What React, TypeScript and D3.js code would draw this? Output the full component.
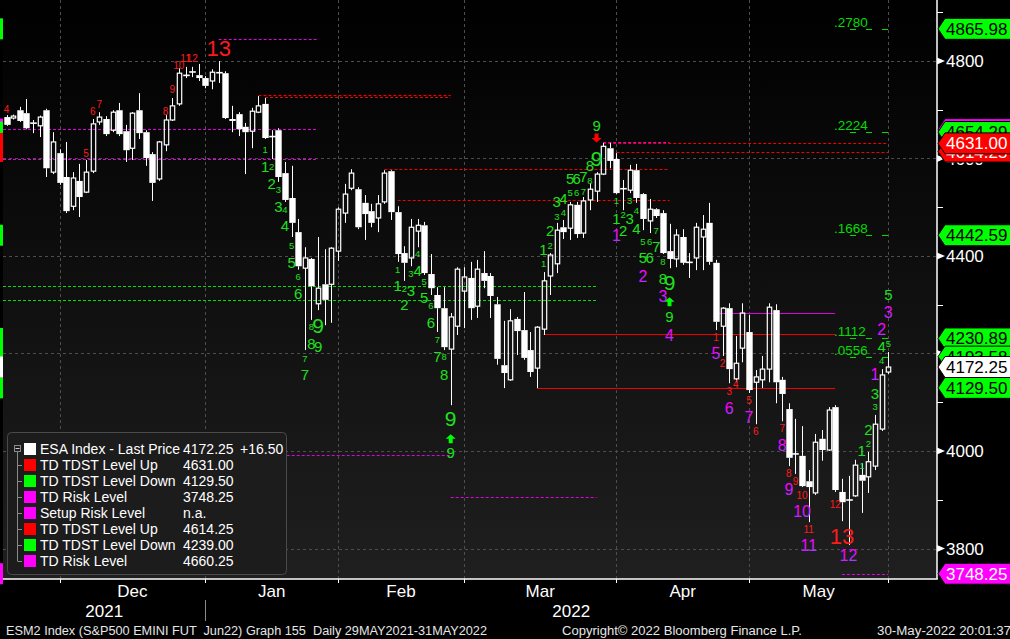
import React from 'react';
import * as d3 from 'd3';

const W = 1010;
const H = 639;

// OHLC (daily, ESM2)
const opens = [4685,4683,4699,4693,4672,4667,4699,4572,4611,4562,4502,4554,4531,4574,4675,4681,4658,4699,4656,4621,4699,4654,4609,4558,4628,4679,4712,4770,4777,4771,4765,4759,4775,4775,4681,4691,4665,4656,4695,4712,4646,4658,4570,4519,4449,4375,4394,4302,4342,4342,4410,4488,4539,4537,4509,4492,4478,4511,4574,4490,4406,4396,4451,4463,4363,4320,4293,4209,4256,4328,4355,4297,4365,4359,4301,4176,4146,4271,4248,4207,4170,4250,4359,4384,4459,4457,4505,4447,4515,4533,4568,4621,4599,4539,4535,4576,4527,4472,4496,4488,4410,4394,4439,4388,4396,4439,4468,4386,4256,4293,4148,4211,4244,4141,4146,4168,4289,4146,4086,3995,3990,3938,3914,4025,4002,4090,3916,3900,3908,3951,3947,3969,4045,4162];
const highs = [4689,4690,4706,4722,4679,4688,4702,4654,4619,4634,4572,4589,4597,4681,4695,4687,4699,4714,4669,4695,4734,4658,4613,4636,4689,4724,4785,4788,4788,4794,4769,4783,4800,4779,4708,4695,4673,4704,4728,4724,4658,4662,4593,4585,4476,4418,4396,4439,4414,4418,4500,4548,4578,4541,4525,4507,4525,4576,4576,4502,4420,4476,4476,4470,4404,4336,4336,4283,4377,4377,4388,4392,4410,4365,4316,4267,4291,4275,4326,4244,4256,4367,4406,4468,4474,4511,4511,4521,4550,4572,4632,4632,4611,4556,4587,4589,4529,4517,4498,4494,4466,4455,4455,4406,4468,4484,4509,4392,4295,4303,4236,4303,4279,4166,4195,4303,4301,4152,4098,4066,4051,3961,4035,4043,4090,4094,3943,3949,3982,3975,3998,4074,4168,4203];
const lows = [4667,4680,4675,4660,4652,4644,4562,4568,4546,4488,4494,4480,4529,4570,4669,4646,4654,4646,4593,4597,4640,4585,4513,4554,4615,4677,4708,4765,4767,4759,4744,4742,4755,4681,4654,4646,4568,4621,4693,4640,4599,4552,4511,4439,4372,4207,4269,4289,4258,4263,4390,4468,4535,4455,4433,4459,4449,4507,4474,4388,4349,4379,4418,4361,4320,4244,4207,4094,4238,4252,4269,4273,4334,4273,4177,4129,4144,4197,4187,4152,4129,4238,4320,4365,4435,4433,4437,4437,4494,4511,4566,4580,4527,4494,4529,4509,4453,4447,4478,4404,4375,4377,4382,4355,4371,4371,4382,4248,4195,4139,4141,4182,4119,4055,4129,4141,4098,4061,3969,3953,3926,3854,3910,3980,4000,3916,3856,3807,3906,3873,3914,3961,4041,4158];
const closes = [4669,4687,4677,4662,4673,4685,4580,4634,4550,4492,4560,4521,4572,4671,4685,4650,4695,4650,4617,4693,4652,4601,4550,4634,4679,4708,4775,4771,4778,4765,4749,4777,4777,4683,4677,4660,4654,4697,4708,4642,4644,4562,4515,4468,4379,4396,4338,4334,4310,4416,4496,4527,4570,4459,4486,4468,4507,4570,4490,4404,4386,4459,4463,4365,4334,4293,4213,4275,4373,4357,4293,4373,4349,4318,4189,4160,4267,4246,4191,4162,4254,4349,4402,4453,4449,4505,4445,4513,4537,4568,4625,4595,4529,4537,4576,4519,4476,4496,4482,4406,4394,4443,4386,4386,4459,4455,4388,4265,4293,4168,4180,4283,4125,4152,4168,4295,4141,4117,3986,3993,3928,3926,4018,4002,4084,3920,3895,3899,3971,3939,3978,4055,4156,4172.25];

// calendar
const monthStarts = [8, 30, 50, 69, 92, 112, 133];
const monthNames = ['Dec', 'Jan', 'Feb', 'Mar', 'Apr', 'May'];
const yearNames = ['2021', '2022'];
const yearBreak = 30;

// price axis
const majorTicks = [3800, 4000, 4200, 4400, 4600, 4800];
const minorTicks = [3900, 4100, 4300, 4500, 4700, 4900];

// TD level segments: price, from index, to index, kind, solid?
const levelPrices = [4845, 4730, 4726, 4660.25, 4599, 4578, 4515, 4338, 4310, 3992, 3905.5, 4631, 4614.25, 4634, 4283, 4239, 4129.5, 3748.25];
const levelFrom = [32, 38, 39, -1, -1, 57, 59, -1, -1, 40, 67, 90, 92, 90, 107, 81, 80, 126];
const levelTo = [47, 67, 67, 47, 47, 100, 100, 89, 89, 67, 89, 133, 133, 100, 125, 125, 125, 133];
const levelKinds = ['risk', 'up', 'up', 'risk', 'risk', 'up', 'up', 'down', 'down', 'risk', 'risk', 'up', 'up', 'risk', 'risk', 'up', 'up', 'risk'];
const levelSolid = [false, false, false, false, false, false, false, false, false, false, false, false, false, false, true, true, true, false];

// projection levels
const fibNames = ['.2780', '.2224', '.1668', '.1112', '.0556'];
const fibValues = [4865.98, 4654.29, 4442.59, 4230.89, 4193.58];

// right-hand value tags (drawing order)
const tagValues = [4865.98, 4660.25, 4654.29, 4614.25, 4631.0, 4442.59, 4230.89, 4193.58, 4129.5, 4172.25, 3748.25];
const tagKinds = ['fib', 'risk', 'fib', 'up', 'up', 'fib', 'fib', 'fib', 'down', 'last', 'risk'];

// TD count labels: [index, price, text, kind]
const tdLabels: [number, number, string, string][] = [
  [0, 4693, '4', 'rs'], [12, 4603, '5', 'rs'], [13, 4689, '6', 'rs'], [14, 4704, '7', 'rs'], [24, 4689, '8', 'rs'],
  [25, 4734, '9', 'rs'], [26, 4784, '10', 'rs'], [27, 4798, '11', 'rs'], [28, 4798, '12', 'rs'],
  [107, 4226, '1', 'rs'], [108, 4172, '2', 'rs'], [109, 4115, '3', 'rs'], [110, 4129, '4', 'rs'], [112, 4096, '5', 'rs'],
  [113, 4033, '6', 'rs'], [117, 4039, '7', 'rs'], [118, 3947, '8', 'rs'], [119, 3930, '9', 'rs'], [120, 3902, '10', 'rs'],
  [121, 3832, '11', 'rs'], [125, 3883, '12', 'rs'],
  [32, 4810, '13', 'rb'], [126, 3809, '13', 'rb'],
  [39, 4611, '1', 'gs'], [40, 4576, '2', 'gs'], [41, 4529, '3', 'gs'], [42, 4488, '4', 'gs'], [43, 4414, '5', 'gs'],
  [44, 4351, '6', 'gs'], [45, 4183, '7', 'gs'], [46, 4248, '8', 'gs'],
  [59, 4365, '1', 'gs'], [60, 4326, '2', 'gs'], [61, 4357, '3', 'gs'], [62, 4398, '4', 'gs'], [63, 4341, '5', 'gs'],
  [64, 4291, '6', 'gs'], [65, 4222, '7', 'gs'], [66, 4187, '8', 'gs'],
  [81, 4377, '1', 'gs'], [82, 4414, '2', 'gs'], [83, 4474, '3', 'gs'], [84, 4482, '4', 'gs'], [85, 4523, '5', 'gs'],
  [86, 4523, '6', 'gs'], [87, 4525, '7', 'gs'], [88, 4548, '8', 'gs'],
  [92, 4507, '1', 'gs'], [93, 4478, '2', 'gs'], [94, 4507, '3', 'gs'], [95, 4486, '4', 'gs'], [96, 4423, '5', 'gs'],
  [97, 4423, '6', 'gs'], [98, 4445, '7', 'gs'], [99, 4382, '8', 'gs'],
  [129, 3963, '1', 'gs'], [130, 4008, '2', 'gs'], [131, 4084, '3', 'gs'], [132, 4178, '4', 'gs'], [133, 4213, '5', 'gs'],
  [39, 4572, '1', 'gb'], [40, 4537, '2', 'gb'], [41, 4490, '3', 'gb'], [42, 4451, '4', 'gb'], [43, 4375, '5', 'gb'],
  [44, 4312, '6', 'gb'], [45, 4146, '7', 'gb'], [46, 4209, '8', 'gb'], [47, 4203, '9', 'gb'],
  [59, 4328, '1', 'gb'], [60, 4289, '2', 'gb'], [61, 4318, '3', 'gb'], [62, 4359, '4', 'gb'], [63, 4304, '5', 'gb'],
  [64, 4252, '6', 'gb'], [65, 4183, '7', 'gb'], [66, 4146, '8', 'gb'], [67, 3986, '9', 'gb'],
  [81, 4402, '1', 'gb'], [82, 4441, '2', 'gb'], [83, 4501, '3', 'gb'], [84, 4507, '4', 'gb'], [85, 4548, '5', 'gb'],
  [86, 4548, '6', 'gb'], [87, 4552, '7', 'gb'], [88, 4574, '8', 'gb'], [89, 4656, '9', 'gb'],
  [92, 4466, '1', 'gb'], [93, 4441, '2', 'gb'], [94, 4466, '3', 'gb'], [95, 4445, '4', 'gb'], [96, 4386, '5', 'gb'],
  [97, 4386, '6', 'gb'], [98, 4408, '7', 'gb'], [99, 4343, '8', 'gb'], [100, 4265, '9', 'gb'],
  [129, 3990, '1', 'gb'], [130, 4032, '2', 'gb'], [131, 4107, '3', 'gb'], [132, 4203, '4', 'gb'], [133, 4310, '5', 'gb'],
  [47, 4242, '9', 'gh'], [67, 4051, '9', 'gh'], [89, 4585, '9', 'gh'], [100, 4330, '9', 'gh'],
  [92, 4431, '1', 'm'], [96, 4347, '2', 'm'], [99, 4306, '3', 'm'], [100, 4226, '4', 'm'], [107, 4189, '5', 'm'],
  [109, 4076, '6', 'm'], [112, 4057, '7', 'm'], [117, 4000, '8', 'm'], [118, 3910, '9', 'm'], [120, 3865, '10', 'm'],
  [121, 3795, '11', 'm'], [127, 3774, '12', 'm'], [131, 4146, '1', 'm'], [132, 4238, '2', 'm'], [133, 4273, '3', 'm'],
];

// signal arrows: [index, price, direction]
const arrows: [number, number, string][] = [[89, 4642, 'down'], [67, 4025, 'up'], [100, 4306, 'up']];

// legend
const legendNames = ['ESA Index - Last Price', 'TD TDST Level Up', 'TD TDST Level Down', 'TD Risk Level', 'Setup Risk Level', 'TD TDST Level Up', 'TD TDST Level Down', 'TD Risk Level'];
const legendValues = ['4172.25', '4631.00', '4129.50', '3748.25', 'n.a.', '4614.25', '4239.00', '4660.25'];
const legendKinds = ['last', 'up', 'down', 'risk', 'risk', 'up', 'down', 'risk'];
const lastChange = '+16.50';

const FONT = 'Liberation Sans, Arial, Helvetica, sans-serif';
const RED = '#ff0000';
const GREEN = '#00ff00';
const MAG = '#ff00ff';
const kindColor: Record<string, string> = { up: RED, down: GREEN, risk: MAG, fib: GREEN, last: '#ffffff' };
const lineColor: Record<string, string> = { up: '#f00000', down: '#00e000', risk: '#e000e0' };
const tagText: Record<string, string> = { up: '#ffffff', down: '#000000', risk: '#ffffff', fib: '#000000', last: '#000000' };

const labelStyle: Record<string, { size: number; fill: string }> = {
  rs: { size: 10, fill: '#ff1a1a' },
  rb: { size: 22, fill: '#ff1a1a' },
  gs: { size: 9.5, fill: '#1fe01f' },
  gb: { size: 15, fill: '#1fe01f' },
  gh: { size: 21, fill: '#1fe01f' },
  m: { size: 16, fill: 'url(#magGrad)' },
};

export default function App() {
  const plotL = 3;
  const plotR = 937;
  const plotB = 579;
  const x = d3.scaleLinear().domain([0, 133]).range([6.5, 888.3]);
  const y = d3.scaleLinear().domain([3800, 4800]).range([548.5, 61]);

  const candles = opens.map((o, i) => {
    const c = closes[i];
    const hi = highs[i];
    const lo = lows[i];
    const cx = Math.round(x(i)) + 0.5;
    const yo = y(o);
    const yc = y(c);
    const top = Math.min(yo, yc);
    const bot = Math.max(yo, yc);
    const doji = Math.abs(c - o) < 2.5;
    if (doji) {
      return (
        <g key={i}>
          <line x1={cx} x2={cx} y1={y(hi)} y2={y(lo)} stroke="#fff" strokeWidth={1} />
          <line x1={cx - 3.3} x2={cx + 3.3} y1={(yo + yc) / 2} y2={(yo + yc) / 2} stroke="#fff" strokeWidth={1.6} />
        </g>
      );
    }
    const up = c > o;
    return (
      <g key={i}>
        <line x1={cx} x2={cx} y1={y(hi)} y2={top} stroke="#fff" strokeWidth={1} />
        <line x1={cx} x2={cx} y1={bot} y2={y(lo)} stroke="#fff" strokeWidth={1} />
        {up ? (
          <rect x={cx - 2.2} y={top} width={4.4} height={bot - top} fill="none" stroke="#fff" strokeWidth={1.2} />
        ) : (
          <rect x={cx - 3.2} y={top} width={6.4} height={bot - top} fill="#fff" />
        )}
      </g>
    );
  });

  const tagPath = (cy: number) =>
    `M938,${cy} L945,${cy - 10.5} L1012,${cy - 10.5} L1012,${cy + 10.5} L945,${cy + 10.5} Z`;

  const rowY = (k: number) => 449 + k * 16;

  return (
    <svg width={W} height={H} style={{ position: 'absolute', left: 0, top: 0, display: 'block', background: '#000' }} fontFamily={FONT}>
      <defs>
        <linearGradient id="bgGrad" x1="0" y1="0" x2="0" y2="1">
          <stop offset="0" stopColor="#000000" />
          <stop offset="1" stopColor="#1f1f1f" />
        </linearGradient>
        <linearGradient id="magGrad" x1="0" y1="0" x2="0.5" y2="1">
          <stop offset="0.45" stopColor="#ff00ff" />
          <stop offset="1" stopColor="#9a40ff" />
        </linearGradient>
        <clipPath id="plotClip">
          <rect x={plotL} y={0} width={plotR - plotL} height={plotB} />
        </clipPath>
      </defs>

      <rect x={0} y={0} width={W} height={H} fill="#000" />
      <rect x={plotL} y={0} width={plotR - plotL} height={plotB} fill="url(#bgGrad)" />

      {/* grid */}
      <g stroke="#4d4d4d" strokeWidth={1} strokeDasharray="3,3">
        {majorTicks.map((t) => (
          <line key={t} x1={plotL} x2={plotR} y1={Math.round(y(t)) + 0.5} y2={Math.round(y(t)) + 0.5} />
        ))}
        {monthStarts.map((m) => (
          <line key={m} x1={Math.round(x(m)) + 0.5} x2={Math.round(x(m)) + 0.5} y1={0} y2={plotB} />
        ))}
      </g>

      <g clipPath="url(#plotClip)">
        {/* TD levels */}
        {levelPrices.map((p, k) => (
          <line
            key={k}
            x1={levelFrom[k] < 0 ? plotL : x(levelFrom[k])}
            x2={x(levelTo[k])}
            y1={Math.round(y(p)) + 0.5}
            y2={Math.round(y(p)) + 0.5}
            stroke={lineColor[levelKinds[k]]}
            strokeWidth={1}
            strokeDasharray={levelSolid[k] ? undefined : '3,2'}
          />
        ))}

        {/* projection levels */}
        {fibValues.map((v, k) => (
          <g key={k}>
            <text x={834} y={y(v) - 2} fontSize={13.5} fill="#00dd00">{fibNames[k]}</text>
            <line x1={850} x2={890} y1={Math.round(y(v)) + 0.5} y2={Math.round(y(v)) + 0.5} stroke="#00dd00" strokeWidth={1.2} strokeDasharray="6,10" />
          </g>
        ))}

        {candles}

        {/* TD counts */}
        {tdLabels.map(([i, p, t, kind], k) => (
          <text key={k} x={x(i)} y={y(p)} textAnchor="middle" fontSize={labelStyle[kind].size} fill={labelStyle[kind].fill}>
            {t}
          </text>
        ))}

        {arrows.map(([i, p, dir], k) => {
          const cx = x(i);
          const cy = y(p);
          const s = dir === 'up' ? -1 : 1;
          const pts = [
            [cx - 2, cy - 4.5 * s],
            [cx + 2, cy - 4.5 * s],
            [cx + 2, cy],
            [cx + 5, cy],
            [cx, cy + 4.5 * s],
            [cx - 5, cy],
            [cx - 2, cy],
          ];
          return <polygon key={k} points={pts.map((q) => q.join(',')).join(' ')} fill={dir === 'up' ? GREEN : RED} />;
        })}
      </g>

      {/* frame */}
      <line x1={plotR} x2={plotR} y1={0} y2={plotB} stroke="#fff" strokeWidth={1.5} />
      <line x1={plotL} x2={plotR + 0.75} y1={plotB} y2={plotB} stroke="#fff" strokeWidth={1.5} />

      {/* x-axis */}
      {monthStarts.map((m) => (
        <line key={m} x1={Math.round(x(m)) + 0.5} x2={Math.round(x(m)) + 0.5} y1={plotB} y2={plotB + 4} stroke="#fff" strokeWidth={1} />
      ))}
      {monthNames.map((n, k) => (
        <text key={n} x={(x(monthStarts[k]) + x(monthStarts[k + 1])) / 2} y={597} textAnchor="middle" fontSize={17} fill="#fff">
          {n}
        </text>
      ))}
      <line x1={Math.round(x(yearBreak)) + 0.5} x2={Math.round(x(yearBreak)) + 0.5} y1={600} y2={621} stroke="#8a8a8a" strokeWidth={1} />
      <text x={(plotL + x(yearBreak)) / 2} y={617} textAnchor="middle" fontSize={17} fill="#fff">{yearNames[0]}</text>
      <text x={(x(yearBreak) + plotR) / 2} y={617} textAnchor="middle" fontSize={17} fill="#fff">{yearNames[1]}</text>

      {/* y-axis */}
      {minorTicks.map((t) => (
        <line key={t} x1={plotR} x2={plotR + 6} y1={Math.round(y(t)) + 0.5} y2={Math.round(y(t)) + 0.5} stroke="#fff" strokeWidth={1} />
      ))}
      {majorTicks.map((t) => (
        <g key={t}>
          <polygon points={`${plotR},${y(t) - 3.5} ${plotR},${y(t) + 3.5} ${plotR + 8},${y(t)}`} fill="#fff" />
          <text x={946} y={y(t) + 6} fontSize={17} fill="#fff">{t}</text>
        </g>
      ))}

      {/* value tags */}
      {tagValues.map((v, k) => {
        const cy = y(v);
        return (
          <g key={k}>
            <path d={tagPath(cy)} fill={kindColor[tagKinds[k]]} stroke="#000" strokeWidth={1} />
            <text x={946} y={cy + 6} fontSize={17} fill={tagText[tagKinds[k]]}>{v.toFixed(2)}</text>
            <rect x={0} y={cy - 10.5} width={3} height={21} fill={kindColor[tagKinds[k]]} />
          </g>
        );
      })}

      {/* legend */}
      <rect x={7.5} y={432.5} width={279} height={142} rx={4} fill="#1c1c1c" stroke="#4a4a4a" strokeWidth={1} />
      <rect x={14.5} y={445.5} width={6} height={6} fill="none" stroke="#8a8a8a" strokeWidth={1} />
      <line x1={15.5} x2={19.5} y1={448.5} y2={448.5} stroke="#cfcfcf" strokeWidth={1} />
      <line x1={17.5} x2={17.5} y1={452} y2={rowY(7)} stroke="#8a8a8a" strokeWidth={1} />
      {legendNames.map((n, k) => (
        <g key={k}>
          {k > 0 && <line x1={17.5} x2={22} y1={rowY(k) + 0.5} y2={rowY(k) + 0.5} stroke="#8a8a8a" strokeWidth={1} />}
          <rect x={24} y={rowY(k) - 6} width={12} height={12} fill={kindColor[legendKinds[k]]} />
          <text x={40} y={rowY(k) + 5} fontSize={14} fill="#fff">{n}</text>
          <text x={183} y={rowY(k) + 5} fontSize={14} fill="#fff">{legendValues[k]}</text>
        </g>
      ))}
      <text x={240} y={rowY(0) + 5} fontSize={14} fill="#fff">{lastChange}</text>

      {/* footer */}
      <text x={6} y={635} fontSize={12} fill="#e6e6e6" textLength={481} lengthAdjust="spacingAndGlyphs" style={{ whiteSpace: 'pre' }}>
        {'ESM2 Index (S&P500 EMINI FUT  Jun22) Graph 155  Daily 29MAY2021-31MAY2022'}
      </text>
      <text x={562} y={635} fontSize={12} fill="#e6e6e6" textLength={240} lengthAdjust="spacingAndGlyphs">
        Copyright© 2022 Bloomberg Finance L.P.
      </text>
      <text x={877} y={635} fontSize={12} fill="#e6e6e6" textLength={134} lengthAdjust="spacingAndGlyphs">
        30-May-2022 20:01:37
      </text>
    </svg>
  );
}
